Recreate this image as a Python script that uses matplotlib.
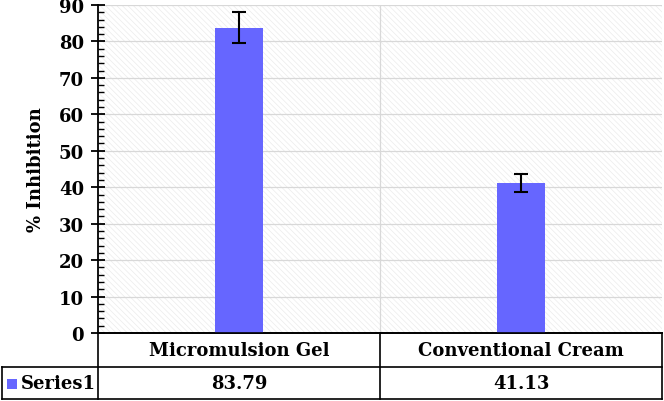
import matplotlib
matplotlib.use("Agg")
import matplotlib.pyplot as plt
from matplotlib.patches import Rectangle
from matplotlib.lines import Line2D
from matplotlib.transforms import blended_transform_factory
import numpy as np

categories = ["Micromulsion Gel", "Conventional Cream"]
values = [83.79, 41.13]
errors = [4.2, 2.4]
series_name = "Series1"
value_labels = ["83.79", "41.13"]
yticks = list(range(0, 91, 10))

W, H = 664, 402
plt.rcParams["hatch.linewidth"] = 0.5
fig = plt.figure(figsize=(W / 100, H / 100), dpi=100)
L, R, T, B = 98, 662, 6, 334
ax = fig.add_axes([L / W, (H - B) / H, (R - L) / W, (B - T) / H])

font = dict(family="DejaVu Serif", weight="bold")
bar_color = "#6666ff"

x = np.arange(len(categories))
bg = Rectangle((0, 0), 1, 1, transform=ax.transAxes, facecolor="white",
               edgecolor="#ebebeb", hatch="\\\\\\\\\\\\", linewidth=0, zorder=0)
ax.add_patch(bg)

ax.bar(x, values, width=0.167, color=bar_color, zorder=3)
ax.errorbar(x, values, yerr=errors, fmt="none", ecolor="black", elinewidth=1.5,
            capsize=5, capthick=1.5, zorder=4)

ax.set_xlim(-0.5, len(categories) - 0.5)
ax.set_ylim(0, 90)
ax.set_yticks(yticks)
ax.set_yticks(np.arange(0, 91, 2), minor=True)
ax.set_yticklabels([str(t) for t in yticks], fontsize=13, **font)
ax.tick_params(axis="y", which="major", direction="inout", length=10, width=1.3, pad=5)
ax.tick_params(axis="y", which="minor", direction="in", length=4, width=1.0)
ax.set_xticks([])
for yv in yticks[1:]:
    ax.axhline(yv, color="#d8d8d8", lw=0.9, zorder=1)
for i in range(1, len(categories)):
    ax.axvline(i - 0.5, color="#d8d8d8", lw=0.9, zorder=1)

for s in ["top", "right"]:
    ax.spines[s].set_visible(False)
ax.spines["left"].set_linewidth(1.3)
ax.spines["bottom"].set_linewidth(1.3)

ax.set_ylabel("% Inhibition", fontsize=13, labelpad=10, **font)

tr = blended_transform_factory(ax.transData, fig.transFigure)
ft = fig.transFigure
def fy(py):
    return 1 - py / H
def fx(px):
    return px / W
row1_top, row1_bot, row2_bot = 334, 368, 400
tab_left = 2
lines = [
    ((fx(L), fx(R)), (fy(row1_top), fy(row1_top))),
    ((fx(tab_left), fx(R)), (fy(row1_bot), fy(row1_bot))),
    ((fx(tab_left), fx(R)), (fy(row2_bot), fy(row2_bot))),
    ((fx(tab_left), fx(tab_left)), (fy(row1_bot), fy(row2_bot))),
    ((fx(L), fx(L)), (fy(row1_top), fy(row2_bot))),
    ((fx(R), fx(R)), (fy(row1_top), fy(row2_bot))),
]
for xs, ys in lines:
    fig.add_artist(Line2D(xs, ys, transform=ft, color="black", lw=1.2))
for i in range(1, len(categories)):
    fig.add_artist(Line2D([i - 0.5, i - 0.5], [fy(row1_top), fy(row2_bot)],
                          transform=tr, color="black", lw=1.2))
for i, c in enumerate(categories):
    fig.text(i, fy((row1_top + row1_bot) / 2), c, transform=tr, ha="center",
             va="center", fontsize=13, **font)
    fig.text(i, fy((row1_bot + row2_bot) / 2), value_labels[i], transform=tr,
             ha="center", va="center", fontsize=13, **font)
fig.add_artist(Rectangle((fx(7), fy(390)), fx(10), 10 / H, transform=ft,
                         facecolor=bar_color, edgecolor="none"))
fig.text(fx(21), fy((row1_bot + row2_bot) / 2), series_name, transform=ft,
         ha="left", va="center", fontsize=13, **font)

fig.savefig("out.png", dpi=100)
